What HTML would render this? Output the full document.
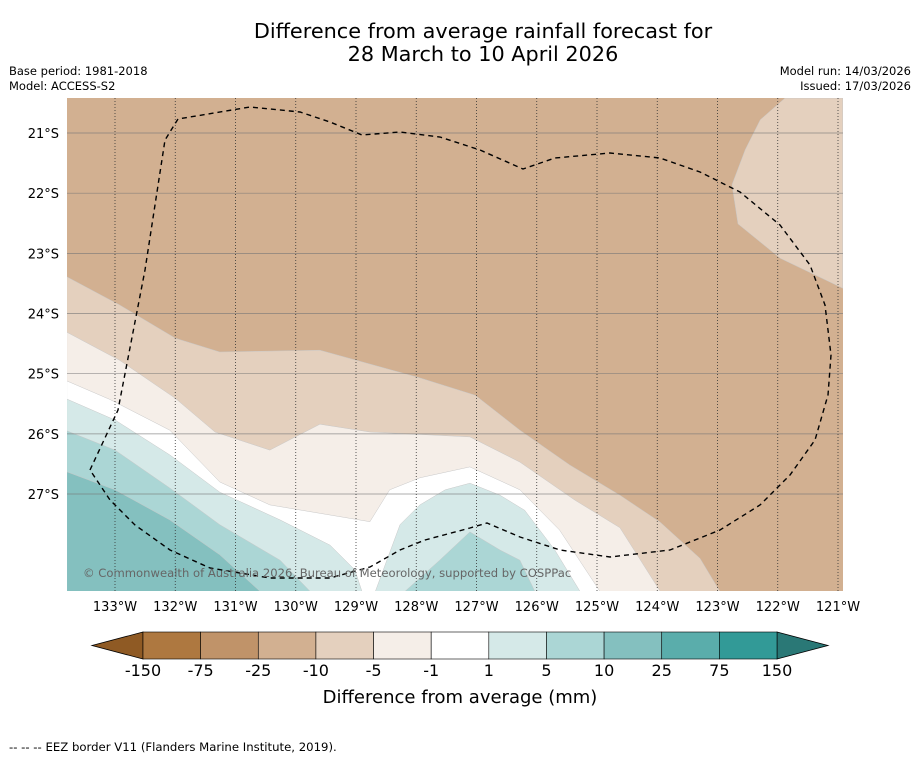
<!DOCTYPE html>
<html><head><meta charset="utf-8">
<style>
body{margin:0;background:#fff;width:919px;height:758px;overflow:hidden;font-family:"Liberation Sans","DejaVu Sans",sans-serif;}
svg text{font-family:"DejaVu Sans","Liberation Sans",sans-serif;}
</style></head>
<body>
<svg id="chart" width="919" height="758" viewBox="0 0 919 758" xmlns="http://www.w3.org/2000/svg">
<text x="483" y="38" font-size="20.8" text-anchor="middle">Difference from average rainfall forecast for</text>
<text x="483" y="61" font-size="20.8" text-anchor="middle">28 March to 10 April 2026</text>
<text x="9" y="75" font-size="11.5">Base period: 1981-2018</text>
<text x="9" y="90" font-size="11.5">Model: ACCESS-S2</text>
<text x="911" y="75" font-size="11.5" text-anchor="end">Model run: 14/03/2026</text>
<text x="911" y="90" font-size="11.5" text-anchor="end">Issued: 17/03/2026</text>
<defs><clipPath id="mapclip"><rect x="67" y="98" width="776" height="493"/></clipPath></defs>
<g id="map" clip-path="url(#mapclip)"></g>
<g id="axes"></g>
<g id="cbar"></g>
<text x="460" y="703" font-size="18" text-anchor="middle">Difference from average (mm)</text>
<text x="9" y="751" font-size="11.7">--  --  -- EEZ border V11 (Flanders Marine Institute, 2019).</text>
</svg>
<script>
// Axis data
const lonTicks=[133,132,131,130,129,128,127,126,125,124,123,122,121];
const latTicks=[21,22,23,24,25,26,27];
const cbarLabels=["-150","-75","-25","-10","-5","-1","1","5","10","25","75","150"];
const cbarColors=["#ae7840","#c09369","#d2b091","#e4d0be","#f5eee8","#ffffff","#d5e9e8","#abd6d5","#84c0bf","#5aadab","#329a97"];
const lowColor="#8f5a24", highColor="#2a7876";
// Contour regions (lon °W, lat °S), drawn in order over a -25..-10 background
const bgLevel="#d2b091";
const regionColors=["#e4d0be","#e4d0be","#f5eee8","#ffffff","#d5e9e8","#d5e9e8","#abd6d5","#abd6d5","#84c0bf"];
const regionLons=[
 [133.8,132.92,132.0,131.26,129.6,127.94,127.02,126.28,125.45,124.62,123.95,123.29,122.96,133.8],
 [120.92,121.96,122.66,122.76,122.54,122.29,121.88,120.92],
 [133.8,132.92,132.0,131.34,130.43,129.6,128.77,127.11,126.28,125.37,124.62,123.95,133.8],
 [133.8,133.08,132.09,131.26,130.43,128.77,128.44,127.94,127.11,126.28,125.62,124.95,133.8],
 [133.8,133.0,132.09,131.26,130.26,129.43,129.02,128.9,133.8],
 [128.68,128.27,127.94,127.52,127.11,126.61,126.2,125.7,125.28],
 [133.8,133.0,132.09,131.26,130.26,129.76,133.8],
 [128.19,127.61,127.11,126.61,126.28,126.03],
 [133.8,133.0,132.09,131.26,130.59,133.8]
];
const regionLats=[
 [23.39,23.86,24.41,24.64,24.61,25.07,25.36,25.94,26.52,27.02,27.47,28.07,28.62,28.62],
 [23.58,23.08,22.51,21.86,21.28,20.78,20.42,20.42],
 [24.31,24.78,25.41,25.97,26.27,25.84,25.97,26.05,26.47,27.1,27.56,28.62,28.62],
 [25.12,25.43,25.94,26.8,27.18,27.46,26.93,26.73,26.55,26.93,27.6,28.62,28.62],
 [25.42,25.77,26.35,26.97,27.43,27.85,28.26,28.62,28.62],
 [28.62,27.51,27.18,26.93,26.82,27.02,27.27,27.93,28.62],
 [25.95,26.27,26.9,27.51,28.1,28.62,28.62],
 [28.62,28.1,27.63,27.93,28.1,28.62],
 [26.63,26.93,27.43,28.01,28.62,28.62]
];
const NS="http://www.w3.org/2000/svg";
const xS=lon=>115+(133-lon)*60.25;
const yS=lat=>133+(lat-21)*60.17;
function mk(tag,attrs,parent){const e=document.createElementNS(NS,tag);for(const k in attrs)e.setAttribute(k,attrs[k]);parent.appendChild(e);return e;}
const map=document.getElementById('map');
const bg=mk('rect',{x:67,y:98,width:776,height:493,fill:bgLevel},map);


regionLons.forEach((lons,i)=>{
 const pts=lons.map((l,j)=>xS(l).toFixed(1)+','+yS(regionLats[i][j]).toFixed(1)).join(' ');
 const p=mk('polygon',{points:pts,fill:regionColors[i],stroke:"#c8c8c8","stroke-width":0.5},map);
 
 
});
// grid
latTicks.forEach(l=>{const g=mk('line',{x1:67,x2:843,y1:yS(l),y2:yS(l),stroke:"#777","stroke-width":0.7,"stroke-opacity":0.8},map);
 
 });
lonTicks.forEach(l=>{const g=mk('line',{x1:xS(l),x2:xS(l),y1:98,y2:591,stroke:"#333","stroke-width":0.8,"stroke-dasharray":"1,2"},map);
 
 });
// EEZ border
const eez=mk('path',{d:"M90,470 L118,410 L145,270 L165,140 L178,119 L250,107 L300,112 L330,122 L362,135 L400,132 L440,137 L480,150 L523,169 L555,158 L610,153 L660,158 L700,172 L740,192 L780,225 L810,265 L825,305 L831,355 L828,395 L815,440 L790,475 L760,505 L720,530 L670,550 L610,557 L560,550 L520,537 L487,523 L470,528 L425,540 L400,550 L370,567 L330,578 L270,578 L210,568 L170,550 L135,525 L110,500 Z",fill:"none",stroke:"#000","stroke-width":1.4,"stroke-dasharray":"5,4"},map);


const cr=mk('text',{x:83,y:577,"font-size":11.6,fill:"#666"},map);
cr.textContent="© Commonwealth of Australia 2026, Bureau of Meteorology, supported by COSPPac";


// axes labels
const axes=document.getElementById('axes');
latTicks.forEach(l=>{const t=mk('text',{x:59,y:yS(l)+5,"font-size":13,"text-anchor":"end"},axes);t.textContent=l+"°S";
 
 });
lonTicks.forEach(l=>{const t=mk('text',{x:xS(l),y:611,"font-size":13,"text-anchor":"middle"},axes);t.textContent=l+"°W";
 
 });
// colorbar
const cb=document.getElementById('cbar');
const cx0=143,cx1=777,cy0=632,cy1=659,bw=(cx1-cx0)/cbarColors.length;
const lt=mk('polygon',{points:`${cx0},${cy0} 92,${(cy0+cy1)/2} ${cx0},${cy1}`,fill:lowColor,stroke:"#000","stroke-width":0.8},cb);


const rt=mk('polygon',{points:`${cx1},${cy0} 828,${(cy0+cy1)/2} ${cx1},${cy1}`,fill:highColor,stroke:"#000","stroke-width":0.8},cb);


cbarColors.forEach((c,i)=>{const r=mk('rect',{x:cx0+i*bw,y:cy0,width:bw,height:cy1-cy0,fill:c,stroke:"#000","stroke-width":0.6},cb);
 
 });
cbarLabels.forEach((s,i)=>{const t=mk('text',{x:cx0+i*bw,y:676,"font-size":16,"text-anchor":"middle"},cb);t.textContent=s;
 
 });
</script>
</body></html>
